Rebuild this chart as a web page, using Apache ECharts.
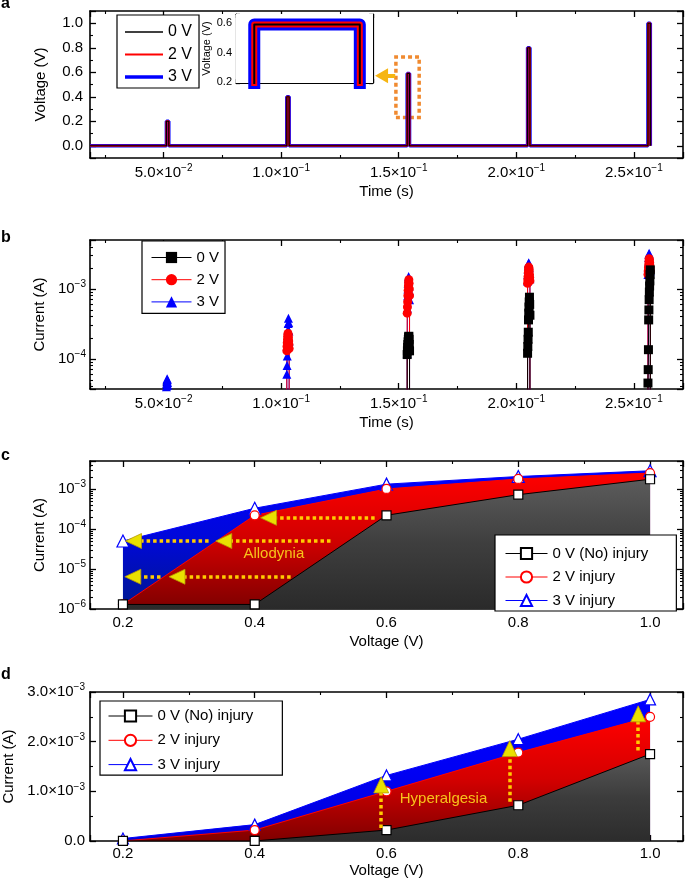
<!DOCTYPE html>
<html><head><meta charset="utf-8">
<script src="https://cdn.jsdelivr.net/npm/echarts@6/dist/echarts.min.js"></script>
<style>html,body{margin:0;padding:0;background:#fff}#c{width:685px;height:883px}</style>
</head><body><div id="c"></div><script>
// ---------------- data ----------------
// panel a : applied voltage pulses
const pulseTimes = [0.0512, 0.1024, 0.1536, 0.2048, 0.256];
const pulseVoltages = [0.2, 0.4, 0.59, 0.8, 1.0];
const pulseWidth = 0.001;
const traceRange = [0.0187, 0.2572];
const voltageNames = ['0 V', '2 V', '3 V'];

// panel b : measured current samples within each pulse (A)
const sampleOffsets = [0, 0.0001, 0.0002, 0.0003, 0.0004, 0.0005, 0.0006, 0.0007, 0.0008, 0.0009, 0.001];
const currentBaseline = 1e-7;
const current0V = [
  [],
  [],
  [1.15e-4, 1.3e-4, 1.45e-4, 1.6e-4, 1.75e-4, 1.9e-4, 2.05e-4, 2.1e-4, 1.9e-4, 1.6e-4, 1.3e-4],
  [1.2e-4, 1.5e-4, 1.9e-4, 2.4e-4, 3.6e-4, 4.5e-4, 5.5e-4, 6.5e-4, 7.6e-4, 6.0e-4, 4.2e-4],
  [4.5e-5, 7.0e-5, 1.35e-4, 3.6e-4, 5.0e-4, 7.0e-4, 9.0e-4, 1.1e-3, 1.3e-3, 1.6e-3, 1.87e-3]
];
const current2V = [
  [],
  [1.3e-4, 1.5e-4, 1.7e-4, 1.9e-4, 2.1e-4, 2.3e-4, 2.2e-4, 2.0e-4, 1.8e-4, 1.6e-4, 1.4e-4],
  [4.5e-4, 5.5e-4, 6.5e-4, 8.0e-4, 9.5e-4, 1.1e-3, 1.25e-3, 1.35e-3, 1.2e-3, 1.0e-3, 8.0e-4],
  [1.2e-3, 1.35e-3, 1.5e-3, 1.7e-3, 1.9e-3, 2.05e-3, 1.95e-3, 1.8e-3, 1.6e-3, 1.45e-3, 1.3e-3],
  [1.6e-3, 1.8e-3, 2.0e-3, 2.2e-3, 2.45e-3, 2.7e-3, 2.6e-3, 2.4e-3, 2.2e-3, 2.0e-3, 1.8e-3]
];
const current3V = [
  [4.0e-5, 4.4e-5, 4.8e-5, 5.2e-5, 5.0e-5, 4.6e-5, 4.2e-5],
  [6.0e-5, 8.0e-5, 1.1e-4, 1.5e-4, 2.0e-4, 2.6e-4, 3.2e-4, 3.8e-4, 3.3e-4, 2.5e-4, 1.8e-4],
  [1.2e-4, 5.3e-4, 8.0e-4, 1.0e-3, 1.2e-3, 1.4e-3, 1.5e-3, 1.3e-3, 1.1e-3, 9.5e-4, 7.0e-4],
  [1.3e-3, 1.6e-3, 1.9e-3, 2.1e-3, 2.3e-3, 2.37e-3, 2.2e-3, 2.0e-3, 1.8e-3, 1.5e-3, 1.4e-3],
  [1.6e-3, 2.0e-3, 2.4e-3, 2.8e-3, 3.1e-3, 3.23e-3, 3.0e-3, 2.7e-3, 2.4e-3, 2.1e-3, 1.8e-3]
];

// panels c, d : peak current vs pulse voltage (A)
const sweepVoltages = [0.2, 0.4, 0.6, 0.8, 1.0];
const injury0V = [1.3e-6, 1.3e-6, 2.2e-4, 7.2e-4, 1.75e-3];
const injury2V = [1.3e-6, 2.2e-4, 1.0e-3, 1.78e-3, 2.5e-3];
const injury3V = [5.0e-5, 3.3e-4, 1.32e-3, 2.05e-3, 2.85e-3];
const injuryNames = ['0 V (No) injury', '2 V injury', '3 V injury'];

// annotations: [xFrom, yFrom, xHead, yHead]
const zoomBox = [[0.1488, 0.23], [0.1587, 0.7245]];
const zoomArrow = [0.1485, 0.572, 0.1427, 0.572];
const allodyniaArrows = [
  [0.582, 1.9e-4, 0.421, 1.9e-4],
  [0.515, 5.0e-5, 0.353, 5.0e-5],
  [0.330, 5.0e-5, 0.216, 5.0e-5],
  [0.4545, 6.4e-6, 0.282, 6.4e-6],
  [0.257, 6.4e-6, 0.215, 6.4e-6]
];
const allodyniaLabel = [0.429, 2.34e-5, 'Allodynia'];
const hyperalgesiaArrows = [
  [0.592, 0.26e-3, 0.592, 1.13e-3],
  [0.787, 0.79e-3, 0.787, 1.86e-3],
  [0.982, 1.82e-3, 0.982, 2.56e-3]
];
const hyperalgesiaLabel = [0.6865, 0.845e-3, 'Hyperalgesia'];

// ---------------- helpers ----------------
const FONT = '"Liberation Sans", Arial, Helvetica, sans-serif';
const rich = {
  b: {fontSize: 15, fontFamily: FONT, color: '#000'},
  s: {fontSize: 10, fontFamily: FONT, color: '#000', padding: [0, 0, 9, 0]}
};
function sciLabel(v) {
  if (Math.abs(v) < 1e-12) return '{b|0.0}';
  const e = Math.floor(Math.log10(v) + 1e-9);
  const m = v / Math.pow(10, e);
  return '{b|' + m.toFixed(1) + '×10}{s|−' + (-e) + '}';
}
function powLabel(v) {
  const e = Math.round(Math.log10(v));
  return '{b|10}{s|−' + (-e) + '}';
}
function axis(o) {
  const a = {
    type: o.type || 'value', gridIndex: o.grid, position: o.pos, min: o.min, max: o.max,
    axisLine: {show: true, onZero: false, lineStyle: {color: '#000', width: o.lw || 1.6}},
    axisTick: {show: true, inside: true, length: o.tick || 6, lineStyle: {color: '#000', width: 1.3}},
    minorTick: {show: o.minor !== 0, splitNumber: o.minor || 2, length: (o.tick || 6) / 2, lineStyle: {color: '#000', width: 1.1}},
    splitLine: {show: false},
    minorSplitLine: {show: false},
    axisLabel: o.label ? Object.assign({show: true, color: '#000', fontSize: 15, fontFamily: FONT, margin: 6,
      showMinLabel: false, showMaxLabel: false, rich: rich}, o.label) : {show: false},
    name: o.name || '', nameLocation: 'middle', nameGap: o.nameGap || 0,
    nameTextStyle: {color: '#000', fontSize: o.nameSize || 15, fontFamily: FONT}
  };
  if (o.type === 'log') a.logBase = 10;
  if (o.split != null) a.splitNumber = o.split;
  if (o.interval != null) a.interval = o.interval;
  return a;
}
function voltageTrace() {
  const pts = [[traceRange[0], 0]];
  pulseTimes.forEach((t, i) => {
    pts.push([t, 0], [t, pulseVoltages[i]], [t + pulseWidth, pulseVoltages[i]], [t + pulseWidth, 0]);
  });
  pts.push([traceRange[1], 0]);
  return pts;
}
function currentTrace(perPulse) {
  const pts = [[traceRange[0], currentBaseline]];
  pulseTimes.forEach((t, i) => {
    pts.push([t, currentBaseline]);
    perPulse[i].forEach((v, k) => pts.push([t + sampleOffsets[k], v]));
    pts.push([t + pulseWidth, currentBaseline]);
  });
  pts.push([traceRange[1], currentBaseline]);
  return pts;
}
function pairs(xs, ys) { return xs.map((x, i) => [x, ys[i]]); }
function grad(c0, c1, c2) {
  return {type: 'linear', x: 0, y: 0, x2: 0, y2: 1, colorStops: [
    {offset: 0, color: c0}, {offset: 0.5, color: c1}, {offset: 1, color: c2}]};
}
const stripName = n => n.slice(n.indexOf(':') + 1);

// ---------------- grids & axes ----------------
const grids = [
  {left: 90, top: 11, width: 593, height: 147},                         // a
  {left: 236, top: 14, width: 137, height: 69, show: true, backgroundColor: '#fff', borderWidth: 0, z: 3}, // inset
  {left: 90, top: 240, width: 593, height: 149},                        // b
  {left: 90, top: 461, width: 593, height: 148},                        // c
  {left: 90, top: 692, width: 593, height: 149}                         // d
].map(g => Object.assign({outerBoundsMode: 'none', containLabel: false}, g));
const timeMin = 0.0187, timeMax = 0.2709;
const xAxes = [
  axis({grid: 0, pos: 'bottom', min: timeMin, max: timeMax, split: 5, label: {formatter: sciLabel, margin: 5}, name: 'Time (s)', nameGap: 26}),
  axis({grid: 0, pos: 'top', min: timeMin, max: timeMax, split: 5}),
  axis({grid: 1, pos: 'bottom', min: 0.153427, max: 0.154725, split: 2, tick: 4, lw: 1.2}),
  axis({grid: 1, pos: 'top', min: 0.153427, max: 0.154725, split: 2, tick: 4, lw: 1.2}),
  axis({grid: 2, pos: 'bottom', min: timeMin, max: timeMax, split: 5, label: {formatter: sciLabel, margin: 5}, name: 'Time (s)', nameGap: 26}),
  axis({grid: 2, pos: 'top', min: timeMin, max: timeMax, split: 5}),
  axis({grid: 3, pos: 'bottom', min: 0.15, max: 1.05, split: 4, label: {formatter: v => '{b|' + v.toFixed(1) + '}', margin: 6}, name: 'Voltage (V)', nameGap: 25}),
  axis({grid: 3, pos: 'top', min: 0.15, max: 1.05, split: 4}),
  axis({grid: 4, pos: 'bottom', min: 0.15, max: 1.05, split: 4, label: {formatter: v => '{b|' + v.toFixed(1) + '}', margin: 5}, name: 'Voltage (V)', nameGap: 22}),
  axis({grid: 4, pos: 'top', min: 0.15, max: 1.05, split: 4})
];
const yAxes = [
  axis({grid: 0, pos: 'left', min: -0.1, max: 1.1, split: 6, label: {formatter: v => '{b|' + Math.abs(v).toFixed(1) + '}', margin: 7}, name: 'Voltage (V)', nameGap: 42}),
  axis({grid: 0, pos: 'right', min: -0.1, max: 1.1, split: 6}),
  axis({grid: 1, pos: 'left', min: 0.195, max: 0.66, split: 2, tick: 4, lw: 1.2,
    label: {formatter: v => v.toFixed(1), fontSize: 11, margin: 4}, name: 'Voltage (V)', nameGap: 22, nameSize: 11}),
  axis({grid: 1, pos: 'right', min: 0.195, max: 0.66, split: 2, tick: 4, lw: 1.2}),
  axis({grid: 2, type: 'log', pos: 'left', min: 3.7e-5, max: 5e-3, label: {formatter: powLabel, margin: 4}, name: 'Current (A)', nameGap: 40, minor: 9}),
  axis({grid: 2, type: 'log', pos: 'right', min: 3.7e-5, max: 5e-3, minor: 9}),
  axis({grid: 3, type: 'log', pos: 'left', min: 1e-6, max: 5e-3, label: {formatter: powLabel, margin: 4, showMinLabel: true}, name: 'Current (A)', nameGap: 40, minor: 9}),
  axis({grid: 3, type: 'log', pos: 'right', min: 1e-6, max: 5e-3, minor: 9}),
  axis({grid: 4, pos: 'left', min: 0, max: 3e-3, interval: 1e-3, label: {formatter: sciLabel, margin: 5, showMinLabel: true, showMaxLabel: true}, name: 'Current (A)', nameGap: 71}),
  axis({grid: 4, pos: 'right', min: 0, max: 3e-3, interval: 1e-3})
];

// ---------------- series ----------------
const vColors = ['#000000', '#ff0000', '#0000ff'];
const vWidths = [1.2, 2, 3.5];
const insetWidths = [2, 6, 12];
const series = [];
const vTrace = voltageTrace();
[2, 1, 0].forEach(i => {
  series.push({
    name: 'a:' + voltageNames[i], type: 'line', xAxisIndex: 0, yAxisIndex: 0, data: vTrace,
    symbol: 'none', lineStyle: {color: vColors[i], width: vWidths[i]}, itemStyle: {color: vColors[i]},
    z: 2
  });
});
// annotation on panel a
series[2].markArea = {silent: true, itemStyle: {color: 'rgba(0,0,0,0)', borderColor: '#f08a30', borderWidth: 3.5, borderType: [4, 3]},
  data: [[{coord: zoomBox[0]}, {coord: zoomBox[1]}]]};
series[2].markLine = {silent: true, symbol: ['none', 'triangle'], symbolSize: [15, 13], label: {show: false},
  lineStyle: {color: '#f6b512', width: 4, type: 'solid'},
  data: [[{coord: [zoomArrow[0], zoomArrow[1]]}, {coord: [zoomArrow[2], zoomArrow[3]]}]]};
[2, 1, 0].forEach(i => {
  series.push({
    name: 'inset:' + voltageNames[i], type: 'line', xAxisIndex: 2, yAxisIndex: 2, data: vTrace,
    symbol: 'none', lineStyle: {color: vColors[i], width: insetWidths[i], join: 'round'}, z: 4
  });
});
// panel b
const bSymbols = ['rect', 'circle', 'triangle'];
const bData = [current0V, current2V, current3V];
[2, 1, 0].forEach(i => {
  series.push({
    name: 'b:' + voltageNames[i], type: 'line', xAxisIndex: 4, yAxisIndex: 4, data: currentTrace(bData[i]),
    symbol: bSymbols[i], symbolSize: 9, showAllSymbol: true,
    lineStyle: {color: vColors[i], width: 1}, itemStyle: {color: vColors[i]}
  });
});
// panels c & d
const iData = [injury0V, injury2V, injury3V];
const iSymbols = ['rect', 'circle', 'triangle'];
const iAreasC = [grad('#5c5c5c', '#3e3e3e', '#2a2a2a'), grad('#ff0000', '#d00000', '#7e0000'), grad('#0000ff', '#0008d8', '#00188e')];
const iAreasD = [grad('#585858', '#3c3c3c', '#2c2c2c'), grad('#ff0000', '#d40000', '#800000'), grad('#0000ff', '#0000f4', '#0000d8')];
[['c:', 6, iAreasC, [9, 9, 12]], ['d:', 8, iAreasD, [9, 9, 11]]].forEach(([p, ax, areas, sizes]) => {
  [2, 1, 0].forEach(i => {
    series.push({
      name: p + injuryNames[i], type: 'line', xAxisIndex: ax, yAxisIndex: ax, data: pairs(sweepVoltages, iData[i]),
      symbol: iSymbols[i], symbolSize: sizes[i], showAllSymbol: true,
      lineStyle: {color: vColors[i], width: 1},
      itemStyle: {color: '#ffffff', borderColor: vColors[i], borderWidth: 1.2},
      areaStyle: {origin: 'start', color: areas[i], opacity: 1}
    });
  });
});
function arrowMarks(arrows, rot, label) {
  return {
    markLine: {silent: true, symbol: ['none', 'none'], label: {show: false},
      lineStyle: {color: '#ffcc00', width: 3.5, type: [3.5, 3], cap: 'butt'},
      data: arrows.map(a => [{coord: [a[0], a[1]]}, {coord: [a[2], a[3]]}])},
    markPoint: {silent: true, label: {show: false},
      data: arrows.map(a => ({coord: [a[2], a[3]], symbol: 'triangle', symbolRotate: rot, symbolSize: [15, 16],
        itemStyle: {color: '#e9e000', borderColor: '#b89a00', borderWidth: 0.8}}))
        .concat([{coord: [label[0], label[1]], symbol: 'circle', symbolSize: 1, itemStyle: {color: 'rgba(0,0,0,0)'},
          label: {show: true, position: 'inside', formatter: label[2], color: '#f7c21a', fontSize: 15, fontFamily: FONT}}])}
  };
}
const cBlack = series.find(s => s.name === 'c:' + injuryNames[0]);
Object.assign(cBlack, arrowMarks(allodyniaArrows, 90, allodyniaLabel));
const dBlack = series.find(s => s.name === 'd:' + injuryNames[0]);
Object.assign(dBlack, arrowMarks(hyperalgesiaArrows, 0, hyperalgesiaLabel));

// ---------------- legends ----------------
const lineIcons = {
  '0 V': 'path://M0,0L40,0L40,1.4L0,1.4Z',
  '2 V': 'path://M0,0L40,0L40,2L0,2Z',
  '3 V': 'path://M0,0L40,0L40,3.6L0,3.6Z'
};
function legend(prefix, names, o) {
  return {
    data: names.map(n => o.icons ? {name: prefix + n, icon: o.icons[n]} : prefix + n),
    orient: 'vertical', left: o.left, top: o.top, padding: o.padding,
    itemWidth: o.iw, itemHeight: 14, itemGap: o.gap, selectedMode: false, formatter: stripName,
    lineStyle: {width: 1},
    textStyle: {color: '#000', fontSize: o.fs || 15, fontFamily: FONT, lineHeight: 14},
    borderColor: '#000', borderWidth: 1.2, backgroundColor: '#fff', borderRadius: 0, z: 10
  };
}
const legends = [
  legend('a:', voltageNames, {left: 117, top: 15, padding: [9, 7, 3, 8], iw: 38, gap: 6.5, fs: 16, icons: lineIcons}),
  legend('b:', voltageNames, {left: 142, top: 241, padding: [9, 6, 4, 9], iw: 40, gap: 7.2}),
  legend('c:', injuryNames, {left: 495, top: 535, padding: [11, 28, 3, 10], iw: 42, gap: 8.5}),
  legend('d:', injuryNames, {left: 100, top: 701, padding: [7.5, 29, 3, 8], iw: 44, gap: 9.3})
];

// ---------------- panel letters ----------------
const letters = [['a', 3.8], ['b', 237.8], ['c', 455.2], ['d', 674.5]];
const graphic = letters.map(([t, y]) => ({type: 'text', left: 1, top: y - 8,
  style: {text: t, font: 'bold 16px ' + FONT, fill: '#000'}}));

const chart = echarts.init(document.getElementById('c'), null, {renderer: 'canvas'});
chart.setOption({
  animation: false, backgroundColor: '#fff',
  grid: grids, xAxis: xAxes, yAxis: yAxes, series: series, legend: legends, graphic: graphic
});
</script></body></html>
